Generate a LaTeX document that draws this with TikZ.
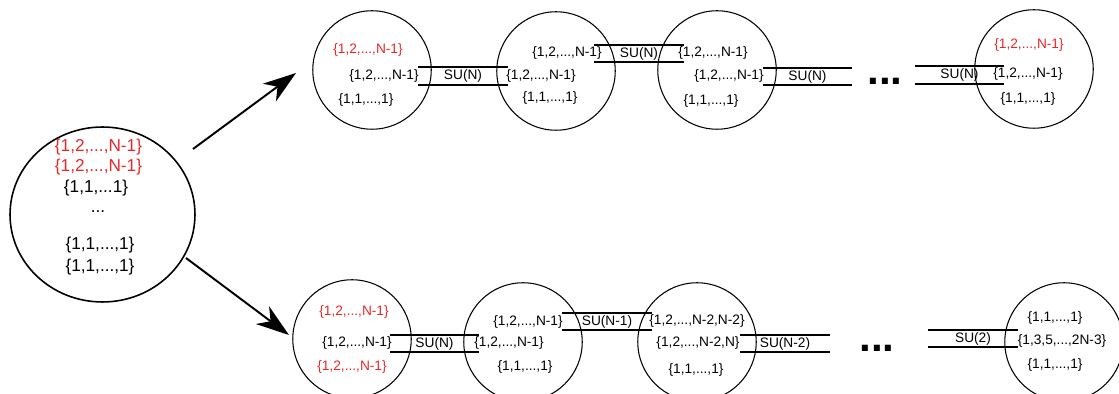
\documentclass[tikz,border=0pt]{standalone}
\usepackage{fontspec}
\setmainfont{Liberation Sans}
\usetikzlibrary{arrows.meta,shapes.geometric}
\definecolor{irrred}{RGB}{232,40,40}

\tikzset{
    site/.style={circle,draw,line width=0.6pt,minimum size=2.37cm,inner sep=0pt},
    irr/.style={font=\fontsize{7.8}{9}\selectfont,inner sep=0pt},
    bigirr/.style={font=\fontsize{9.8}{11}\selectfont,inner sep=0pt},
    bond/.style={font=\fontsize{7.8}{9}\selectfont,minimum width=1.77cm,minimum height=0.33cm,inner sep=0pt},
    bondline/.style={line width=1.2pt},
    etc/.style={font=\fontsize{24}{24}\selectfont\bfseries,inner sep=0pt,anchor=base},
    branch/.style={line width=1.1pt,-{Stealth[length=0.66cm,width=0.44cm,inset=0.2cm]}}
}

\begin{document}
\begin{tikzpicture}[x=0.02cm,y=-0.02cm]
    \useasboundingbox (0,0) rectangle (1119,394);

    % the starting chain on the left
    \node[ellipse,draw,line width=0.9pt,minimum width=3.7cm,minimum height=3.5cm] (src) at (102.5,214.5) {};
    \node[bigirr,irrred] (s1) at (98.5,147) {\{1,2,...,N-1\}};
    \node[bigirr,irrred] (s2) at (98.5,167) {\{1,2,...,N-1\}};
    \node[bigirr] (s3) at (96,188) {\{1,1,...1\}};
    \node[bigirr] (s4) at (98,212) {...};
    \node[bigirr] (s5) at (100,245) {\{1,1,...,1\}};
    \node[bigirr] (s6) at (100,267) {\{1,1,...,1\}};

    \coordinate (up0) at (193,149);
    \coordinate (up1) at (296,73);
    \coordinate (dn0) at (186,258);
    \coordinate (dn1) at (289,335);
    \draw[branch] (up0) -- (up1);
    \draw[branch] (dn0) -- (dn1);

    % upper chain
    \node[site] (c1) at (372,70) {};
    \node[site] (c2) at (556,71) {};
    \node[site] (c3) at (717,70) {};
    \node[site] (c4) at (1034,69) {};

    \node[irr,irrred] (c1a) at (368,50) {\{1,2,...,N-1\}};
    \node[irr] (c1b) at (384,76) {\{1,2,...,N-1\}};
    \node[irr] (c1c) at (366,100) {\{1,1,...,1\}};
    \node[irr] (c2a) at (567,53) {\{1,2,...,N-1\}};
    \node[irr] (c2b) at (541,76) {\{1,2,...,N-1\}};
    \node[irr] (c2c) at (550,98) {\{1,1,...,1\}};
    \node[irr] (c3a) at (713,53) {\{1,2,...,N-1\}};
    \node[irr] (c3b) at (729,76) {\{1,2,...,N-1\}};
    \node[irr] (c3c) at (711,101) {\{1,1,...,1\}};
    \node[irr,irrred] (c4a) at (1029,45) {\{1,2,...,N-1\}};
    \node[irr] (c4b) at (1028,74) {\{1,2,...,N-1\}};
    \node[irr] (c4c) at (1028,99) {\{1,1,...,1\}};

    \node[bond] (cb1) at (463,76) {SU(N)};
    \node[bond] (cb2) at (639,53.5) {SU(N)};
    \node[bond] (cb3) at (807.5,76.5) {SU(N)};
    \node[bond] (cb4) at (959.5,75) {SU(N)};
    \node[etc] (cdots) at (885,84.5) {...};

    % lower chain
    \node[site] (d1) at (352,339) {};
    \node[site] (d2) at (523,342) {};
    \node[site] (d3) at (697,342) {};
    \node[site] (d4) at (1064,342) {};

    \node[irr,irrred] (d1a) at (354,312) {\{1,2,...,N-1\}};
    \node[irr] (d1b) at (357,343) {\{1,2,...,N-1\}};
    \node[irr,irrred] (d1c) at (352,367) {\{1,2,...,N-1\}};
    \node[irr] (d2a) at (528,322) {\{1,2,...,N-1\}};
    \node[irr] (d2b) at (509,343) {\{1,2,...,N-1\}};
    \node[irr] (d2c) at (525,367) {\{1,1,...,1\}};
    \node[irr] (d3a) at (697,321) {\{1,2,...,N-2,N-2\}};
    \node[irr] (d3b) at (698,343) {\{1,2,...,N-2,N\}};
    \node[irr] (d3c) at (696,370) {\{1,1,...,1\}};
    \node[irr] (d4a) at (1055,318) {\{1,1,...,1\}};
    \node[irr] (d4b) at (1062,341) {\{1,3,5,...,2N-3\}};
    \node[irr] (d4c) at (1055,365) {\{1,1,...,1\}};

    \node[bond] (db1) at (434.5,343.5) {SU(N)};
    \node[bond] (db2) at (607,321.5) {SU(N-1)};
    \node[bond] (db3) at (785,343.5) {SU(N-2)};
    \node[bond] (db4) at (973,338.5) {SU(2)};
    \node[etc] (ddots) at (877,351.5) {...};

    % double lines of the bonds
    \foreach \b in {cb1,cb2,cb3,cb4,db1,db2,db3,db4}
        \draw[bondline] (\b.north west) -- (\b.north east) (\b.south west) -- (\b.south east);
\end{tikzpicture}
\end{document}
